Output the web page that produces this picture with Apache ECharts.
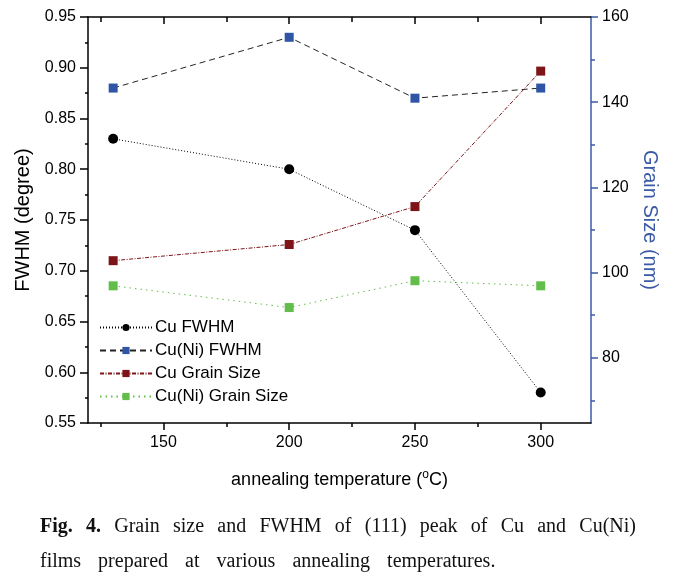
<!DOCTYPE html>
<html>
<head>
<meta charset="utf-8">
<script src="https://cdn.jsdelivr.net/npm/echarts@6/dist/echarts.min.js"></script>
<style>
html, body { margin: 0; padding: 0; background: #fff; }
#chart { width: 677px; height: 579px; }
#cap { position: absolute; left: 40px; top: 508px; width: 596px;
  font-family: "Liberation Serif", "Times New Roman", serif; font-size: 20px; color: #111; line-height: 35px; }
#cap .l1 { text-align: justify; text-align-last: justify; white-space: nowrap; }
#cap .l2 { word-spacing: 12px; white-space: nowrap; }
</style>
</head>
<body>
<div id="chart"></div>
<div id="cap">
  <div class="l1"><b>Fig. 4.</b> Grain size and FWHM of (111) peak of Cu and Cu(Ni)</div>
  <div class="l2">films prepared at various annealing temperatures.</div>
</div>
<script>
var temps = [130, 200, 250, 300];
var cuFwhm = [0.83, 0.80, 0.74, 0.58];
var cuNiFwhm = [0.88, 0.93, 0.87, 0.88];
var cuGrain = [102.8, 106.6, 115.5, 147.3];
var cuNiGrain = [96.9, 91.8, 98.1, 96.9];
var xLabels = [150, 200, 250, 300];
var xMinor = [125, 175, 225, 275];
var rightLabels = [80, 100, 120, 140, 160];
var rightMinor = [70, 90, 110, 130, 150];

function pairs(ys) {
  return temps.map(function (t, i) { return [t, ys[i]]; });
}

var chart = echarts.init(document.getElementById('chart'));
var font = 'Liberation Sans, Arial, sans-serif';
var blueAxis = '#3b5aa6';

var option = {
  animation: false,
  textStyle: { fontFamily: font },
  grid: { left: 88, right: 86, top: 17, bottom: 156 },
  legend: {
    orient: 'vertical', left: 94, top: 314,
    itemWidth: 52, itemHeight: 9, itemGap: 6,
    textStyle: { fontSize: 17, color: '#000', fontFamily: font, padding: [0, 0, 0, -2] },
    data: ['Cu FWHM', 'Cu(Ni) FWHM', 'Cu Grain Size', 'Cu(Ni) Grain Size']
  },
  xAxis: [
    {
      type: 'value', min: 120, max: 320, position: 'bottom',
      name: 'annealing temperature ({sup|o}C)', nameLocation: 'middle', nameGap: 46,
      nameTextStyle: { fontSize: 18, color: '#000', rich: { sup: { fontSize: 12, verticalAlign: 'top', padding: [0, 0, 10, 0] } } },
      axisLine: { lineStyle: { color: '#000', width: 1.5 } },
      axisTick: { inside: false, length: 7, customValues: xLabels, lineStyle: { color: '#000', width: 1.5 } },
      axisLabel: { customValues: xLabels, fontSize: 16, color: '#000', margin: 12 },
      splitLine: { show: false }
    },
    {
      type: 'value', min: 120, max: 320, position: 'bottom',
      axisLine: { show: false },
      axisTick: { length: 4, customValues: xMinor, lineStyle: { color: '#000', width: 1.5 } },
      axisLabel: { show: false }, splitLine: { show: false }
    },
    {
      type: 'value', min: 120, max: 320, position: 'top',
      axisLine: { lineStyle: { color: '#000', width: 1.5 } },
      axisTick: { inside: true, length: 7, customValues: xLabels, lineStyle: { color: '#000', width: 1.5 } },
      axisLabel: { show: false }, splitLine: { show: false }
    },
    {
      type: 'value', min: 120, max: 320, position: 'top',
      axisLine: { show: false },
      axisTick: { inside: true, length: 5, customValues: xMinor, lineStyle: { color: '#000', width: 1.5 } },
      axisLabel: { show: false }, splitLine: { show: false }
    }
  ],
  yAxis: [
    {
      type: 'value', min: 0.55, max: 0.95, interval: 0.05, position: 'left',
      name: 'FWHM (degree)', nameLocation: 'middle', nameGap: 46,
      nameTextStyle: { fontSize: 20, color: '#000' },
      axisLine: { show: true, lineStyle: { color: '#000', width: 1.5 } },
      axisTick: { show: true, length: 8, lineStyle: { color: '#000', width: 1.5 } },
      minorTick: { show: true, splitNumber: 2, length: 3, lineStyle: { color: '#000', width: 1.5 } },
      axisLabel: { fontSize: 16, color: '#000', margin: 12, formatter: function (v) { return v.toFixed(2); } },
      splitLine: { show: false }
    },
    {
      type: 'value', min: 64.7, max: 160, position: 'right',
      name: 'Grain Size (nm)', nameLocation: 'middle', nameGap: 41, nameRotate: -90,
      nameTextStyle: { fontSize: 20, color: blueAxis },
      axisLine: { show: true, lineStyle: { color: blueAxis, width: 1.5 } },
      axisTick: { show: true, length: 7, customValues: rightLabels, lineStyle: { color: blueAxis, width: 1.5 } },
      axisLabel: { customValues: rightLabels, fontSize: 16, color: '#000', margin: 11 },
      splitLine: { show: false }
    },
    {
      type: 'value', min: 64.7, max: 160, position: 'right',
      axisLine: { show: false },
      axisTick: { show: true, length: 4, customValues: rightMinor, lineStyle: { color: blueAxis, width: 1.5 } },
      axisLabel: { show: false }, splitLine: { show: false }
    }
  ],
  series: [
    {
      name: 'Cu FWHM', type: 'line', xAxisIndex: 0, yAxisIndex: 0,
      data: pairs(cuFwhm), symbol: 'circle', symbolSize: 10,
      itemStyle: { color: '#000' },
      lineStyle: { color: '#000', width: 1, type: [1, 2] }
    },
    {
      name: 'Cu(Ni) FWHM', type: 'line', xAxisIndex: 0, yAxisIndex: 0,
      data: pairs(cuNiFwhm), symbol: 'rect', symbolSize: 9,
      itemStyle: { color: '#2f56a6' },
      lineStyle: { color: '#222', width: 1, type: [6, 4] }
    },
    {
      name: 'Cu Grain Size', type: 'line', xAxisIndex: 0, yAxisIndex: 1,
      data: pairs(cuGrain), symbol: 'rect', symbolSize: 9,
      itemStyle: { color: '#7d1518' },
      lineStyle: { color: '#7d1518', width: 1, type: [4, 1.5, 1, 1.5] }
    },
    {
      name: 'Cu(Ni) Grain Size', type: 'line', xAxisIndex: 0, yAxisIndex: 1,
      data: pairs(cuNiGrain), symbol: 'rect', symbolSize: 9,
      itemStyle: { color: '#63bd4a' },
      lineStyle: { color: '#63bd4a', width: 1, type: [1.5, 4] }
    }
  ]
};
chart.setOption(option);
</script>
</body>
</html>
